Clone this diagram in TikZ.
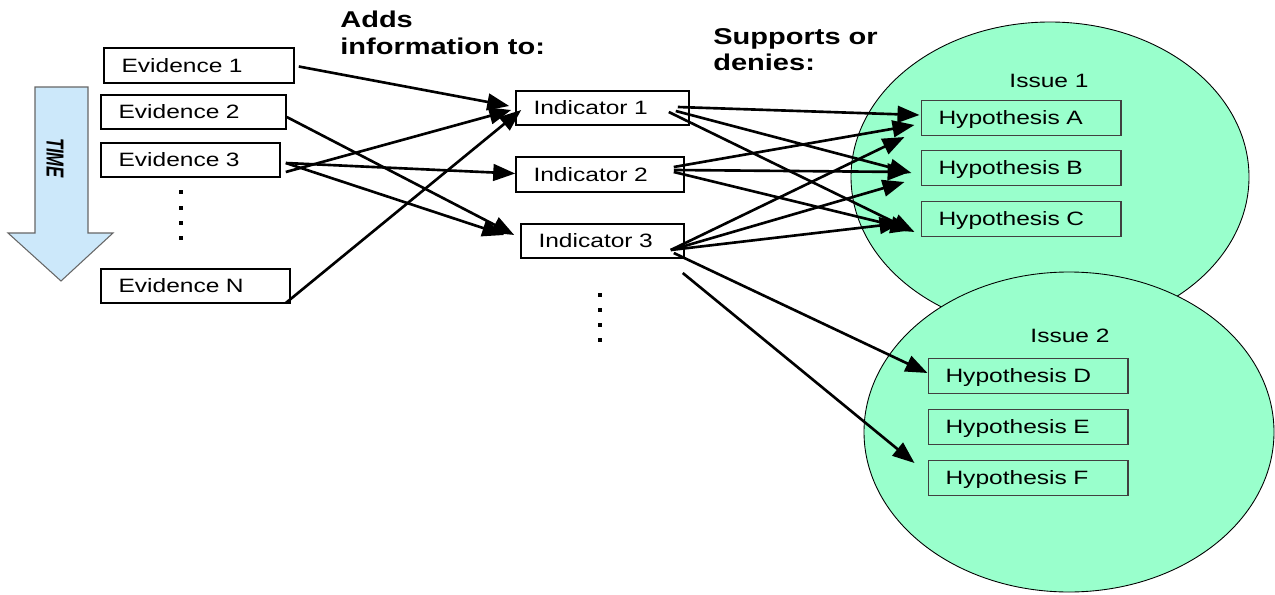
\documentclass[tikz,border=0pt]{standalone}
\usepackage{fontspec}
\setmainfont{Liberation Sans}[FakeStretch=1.27]
\newfontfamily\timefont{Liberation Sans}[FakeStretch=0.68]
\usetikzlibrary{arrows.meta,calc}
\definecolor{issuegreen}{HTML}{99FFCC}
\definecolor{timeblue}{HTML}{CCE8FA}

\begin{document}
\begin{tikzpicture}[x=0.02cm,y=-0.02cm,
   box/.style={draw,line width=0.9pt,minimum height=0.69cm,inner xsep=0.35cm,
      text width=#1,align=left,text height=7.9pt,text depth=0pt,font=\fontsize{11}{13}\selectfont},
   hyp/.style={box=3.3cm,line width=0.6pt,draw=black!75},
   issue/.style={draw=black,line width=0.5pt,fill=issuegreen},
   tag/.style={font=\fontsize{11}{13}\selectfont},
   heading/.style={anchor=north west,inner sep=0pt,align=left,font=\fontsize{13}{15}\selectfont\bfseries},
   link/.style={line width=1.5pt,-{Triangle[length=12.5pt,width=9.5pt]}}]

\useasboundingbox (0,0) rectangle (1275,595);

\draw[issue] (1050,177) ellipse [x radius=199,y radius=155];
\draw[issue] (1069,432) ellipse [x radius=205,y radius=160];
\node[tag] (issue1) at (1049,81) {Issue 1};
\node[tag] (issue2) at (1070,336) {Issue 2};

\draw[draw=black!60,fill=timeblue,line width=0.6pt] (35,87) -- (88,87) -- (88,233) -- (113,233)
   -- (61,281) -- (8,233) -- (35,233) -- cycle;
\node[rotate=-90,font=\timefont\fontsize{14}{16}\selectfont\bfseries\itshape] (time) at (55,158) {TIME};

\node[heading] (adds) at (340,11) {Adds\\information to:};
\node[heading] (supports) at (713,28) {Supports or\\denies:};

\node[box=3.1cm] (e1) at (199,65.5) {Evidence 1};
\node[box=3.0cm] (e2) at (193.5,112) {Evidence 2};
\node[box=2.88cm] (e3) at (190.5,160) {Evidence 3};
\node[box=3.08cm] (eN) at (195.5,286) {Evidence N};
\foreach \y in {194,210,225,240}
   \fill (179,\y) rectangle +(4,-4);

\node[box=2.76cm] (i1) at (602.5,108) {Indicator 1};
\node[box=2.66cm] (i2) at (600,174.5) {Indicator 2};
\node[box=2.56cm] (i3) at (602.5,241) {Indicator 3};
\foreach \y in {297,312,327,342}
   \fill (598,\y) rectangle +(4,-4);

\node[hyp] (hA) at (1021,118) {Hypothesis A};
\node[hyp] (hB) at (1021,168) {Hypothesis B};
\node[hyp] (hC) at (1021,219) {Hypothesis C};
\node[hyp] (hD) at (1028,376) {Hypothesis D};
\node[hyp] (hE) at (1028,427) {Hypothesis E};
\node[hyp] (hF) at (1028,478) {Hypothesis F};

\draw[link] ($(e1.east)+(4,1)$) -- ($(i1.west)+(-6,-2)$);
\draw[link] ($(e2.east)+(0,5)$) -- ($(i3.west)+(-6,-6)$);
\draw[link] ($(e3.east)+(5,12)$) -- ($(i1.west)+(-4,2)$);
\draw[link] ($(e3.east)+(5,3)$) -- ($(i2.west)+(0,-1)$);
\draw[link] ($(e3.east)+(5,3)$) -- ($(i3.west)+(-16,-6)$);
\draw[link] ($(eN.east)+(-5,17)$) -- ($(i1.west)+(6,2)$);

\draw[link] ($(i1.east)+(-12,-1)$) -- ($(hA.west)+(-1,-3)$);
\draw[link] ($(i1.east)+(-14,3)$) -- ($(hB.west)+(-9,5)$);
\draw[link] ($(i1.east)+(-21,4)$) -- ($(hC.west)+(-6,13)$);
\draw[link] ($(i2.east)+(-11,-7.5)$) -- ($(hA.west)+(-6,7)$);
\draw[link] ($(i2.east)+(-11,-4.5)$) -- ($(hB.west)+(-11,4)$);
\draw[link] ($(i2.east)+(-11,-2.5)$) -- ($(hC.west)+(-8,11)$);
\draw[link] ($(i3.east)+(-14,9)$) -- ($(hA.west)+(-16,19)$);
\draw[link] ($(i3.east)+(-14,9)$) -- ($(hB.west)+(-16,14)$);
\draw[link] ($(i3.east)+(-14,9)$) -- ($(hC.west)+(-19,4)$);
\draw[link] ($(i3.east)+(-11,12)$) -- ($(hD.west)+(0,-3)$);
\draw[link] ($(i3.east)+(-2,32)$) -- ($(hF.west)+(-13,-15)$);
\end{tikzpicture}
\end{document}
